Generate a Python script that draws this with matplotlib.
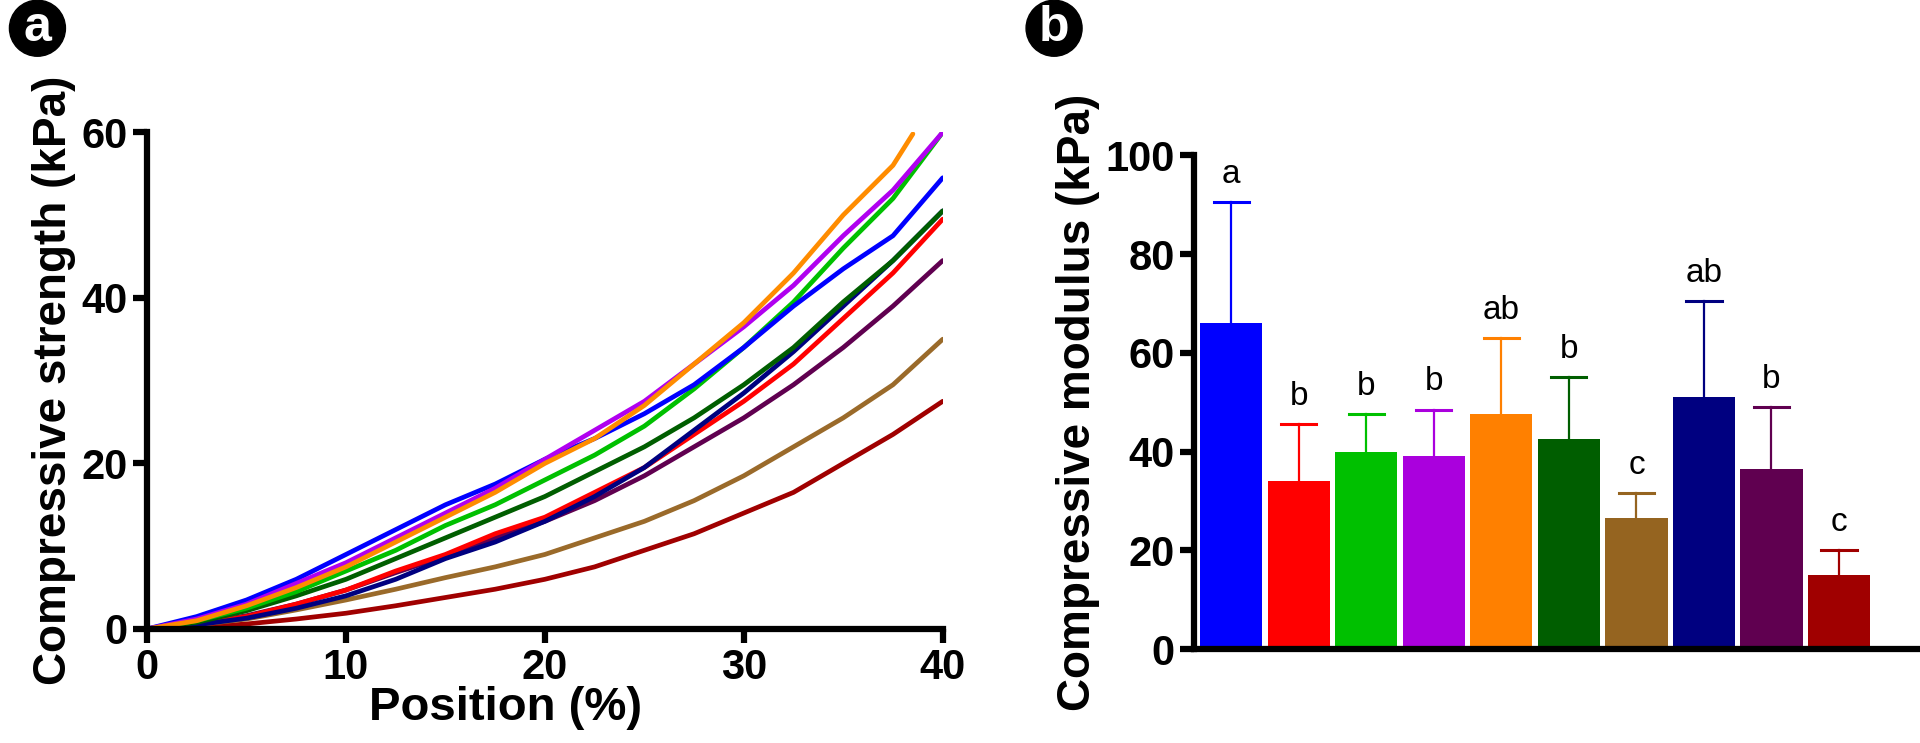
import matplotlib.pyplot as plt
import numpy as np

plt.rcParams['font.family'] = ['Liberation Sans', 'DejaVu Sans']

# panel a: stress-strain curves (every 2.5 %)
pos = [0, 2.5, 5, 7.5, 10, 12.5, 15, 17.5, 20, 22.5, 25, 27.5, 30, 32.5, 35, 37.5, 40]
pos_orange = [0, 2.5, 5, 7.5, 10, 12.5, 15, 17.5, 20, 22.5, 25, 27.5, 30, 32.5, 35, 37.5, 38.5]

curves = {
    '#A00000': [0, 0.2, 0.6, 1.2, 1.9, 2.8, 3.8, 4.8, 6, 7.5, 9.5, 11.5, 14, 16.5, 20, 23.5, 27.5],
    '#9A6A2A': [0, 0.5, 1.2, 2.3, 3.5, 4.8, 6.2, 7.5, 9, 11, 13, 15.5, 18.5, 22, 25.5, 29.5, 35],
    '#600050': [0, 0.6, 1.6, 3, 4.7, 6.8, 8.8, 11, 13, 15.5, 18.5, 22, 25.5, 29.5, 34, 39, 44.5],
    '#FF0000': [0, 0.6, 1.5, 3, 4.7, 7, 9, 11.5, 13.5, 16.5, 19.5, 23.5, 27.5, 32, 37.5, 43, 49.5],
    '#000080': [0, 0.5, 1.3, 2.5, 4, 6, 8.5, 10.5, 13, 16, 19.5, 24, 28.5, 33.5, 39, 44.5, 50.5],
    '#005E00': [0, 0.8, 2.2, 4, 6, 8.5, 11, 13.5, 16, 19, 22, 25.5, 29.5, 34, 39.5, 44.5, 50.5],
    '#00C000': [0, 1, 2.5, 4.5, 7, 9.5, 12.5, 15, 18, 21, 24.5, 29, 34, 39.5, 46, 52, 60],
    '#0000FF': [0, 1.5, 3.5, 6, 9, 12, 15, 17.5, 20.5, 23, 26, 29.5, 34, 39, 43.5, 47.5, 54.5],
    '#B000F0': [0, 1.2, 3, 5.5, 8, 11, 14, 17, 20.5, 24, 27.5, 32, 36.5, 41.5, 47.5, 53, 60],
}
orange = [0, 1, 2.8, 5, 7.5, 10.5, 13.5, 16.5, 20, 23, 27, 32, 37, 43, 50, 56, 59.8]

# panel b: compressive modulus
bar_vals = [66, 34, 40, 39, 47.5, 42.5, 26.5, 51, 36.5, 15]
bar_top = [90.5, 45.5, 47.5, 48.5, 63, 55, 31.5, 70.5, 49, 20]
bar_cols = ['#0000FF', '#FF0000', '#00C000', '#AA00DD', '#FF8000',
            '#005E00', '#956420', '#000080', '#600050', '#A00000']
letters = ['a', 'b', 'b', 'b', 'ab', 'b', 'c', 'ab', 'b', 'c']

fig = plt.figure(figsize=(19.2, 7.43), dpi=100)

# ---- a
ax1 = fig.add_axes([0.0766, 0.1535, 0.4144, 0.6685])
for c, v in curves.items():
    ax1.plot(pos, v, color=c, lw=3.4, solid_capstyle='round')
ax1.plot(pos_orange, orange, color='#FF8C00', lw=3.4, solid_capstyle='round')
ax1.set_xlim(0, 40)
ax1.set_ylim(0, 60)
ax1.set_xticks([0, 10, 20, 30, 40])
ax1.set_yticks([0, 20, 40, 60])
for s in ['top', 'right']:
    ax1.spines[s].set_visible(False)
for s in ['left', 'bottom']:
    ax1.spines[s].set_linewidth(4.5)
ax1.tick_params(width=4.5, length=10, labelsize=30, pad=4)
for t in ax1.get_xticklabels() + ax1.get_yticklabels():
    t.set_fontweight('bold')
ax1.set_xlabel('Position (%)', fontsize=34, fontweight='bold', labelpad=-2)
ax1.xaxis.set_label_coords(0.45, -0.115)
ax1.set_ylabel('Compressive strength (kPa)', fontsize=33, fontweight='bold', labelpad=4)

# ---- b
ax2 = fig.add_axes([0.622, 0.1265, 0.378, 0.6645])
x = np.arange(len(bar_vals))
ax2.bar(x, bar_vals, width=0.92, color=bar_cols, zorder=2)
for i in range(len(bar_vals)):
    ax2.plot([x[i], x[i]], [bar_vals[i], bar_top[i]], color=bar_cols[i], lw=1.6, zorder=1)
    ax2.plot([x[i] - 0.26, x[i] + 0.26], [bar_top[i], bar_top[i]], color=bar_cols[i], lw=2.2)
    ax2.text(x[i], bar_top[i] + 2.5, letters[i], ha='center', va='bottom', fontsize=24)
ax2.set_xlim(-0.55, 10.2)
ax2.set_ylim(0, 100)
ax2.set_yticks([0, 20, 40, 60, 80, 100])
ax2.set_xticks([])
for s in ['top', 'right']:
    ax2.spines[s].set_visible(False)
for s in ['left', 'bottom']:
    ax2.spines[s].set_linewidth(4.5)
ax2.tick_params(width=4.5, length=10, labelsize=30, pad=4)
for t in ax2.get_yticklabels():
    t.set_fontweight('bold')
ax2.set_ylabel('Compressive modulus (kPa)', fontsize=33, fontweight='bold', labelpad=4)

# panel letters
for px, lab in [(0.0195, 'a'), (0.549, 'b')]:
    fig.text(px, 0.962, lab, ha='center', va='center', color='white', fontsize=36,
             fontweight='bold',
             bbox=dict(boxstyle='circle,pad=0.1', fc='black', ec='black'))

fig.savefig('out.png', dpi=100)
